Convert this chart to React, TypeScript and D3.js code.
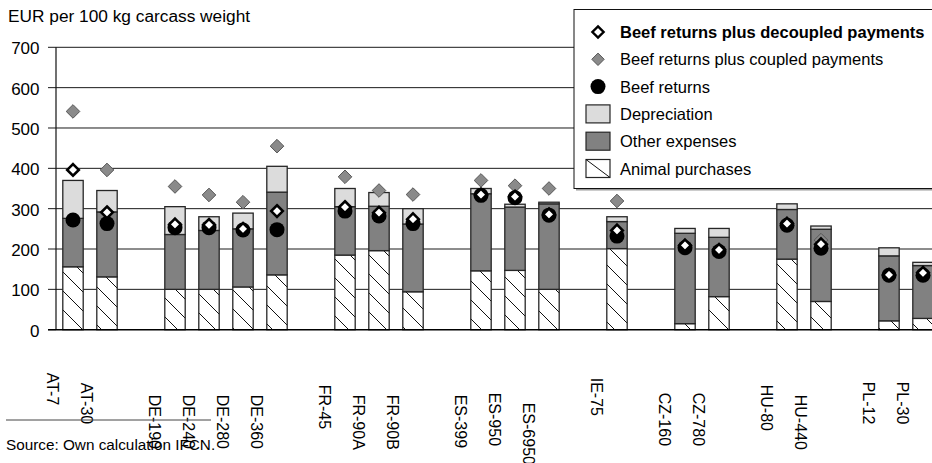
import React from "react";
import * as d3 from "d3";

// Category slots along the x axis; null marks an empty spacer slot between countries
const farms: (string | null)[] = [
  "AT-7", "AT-30", null,
  "DE-190", "DE-240", "DE-280", "DE-360", null,
  "FR-45", "FR-90A", "FR-90B", null,
  "ES-399", "ES-950", "ES-6950", null,
  "IE-75", null,
  "CZ-160", "CZ-780", null,
  "HU-80", "HU-440", null,
  "PL-12", "PL-30",
];

// Cost components (EUR per 100 kg carcass weight), one value per farm in order
const animalPurchases = [156, 131, 100, 100, 106, 136, 185, 196, 94, 146, 147, 100, 201, 15, 82, 175, 70, 22, 28];
const otherExpenses = [120, 161, 136, 146, 144, 205, 120, 110, 168, 191, 157, 212, 67, 224, 147, 123, 179, 161, 131];
const depreciation = [94, 53, 69, 34, 39, 64, 45, 34, 38, 13, 7, 4, 12, 12, 22, 14, 8, 20, 8];

// Returns
const beefReturns = [272, 263, 253, 253, 247, 248, 294, 282, 263, 333, 327, 284, 232, 203, 194, 259, 202, 135, 135];
const plusDecoupled = [396, 291, 261, 260, 250, 294, 304, 290, 274, 335, 330, 286, 246, 209, 198, 263, 212, 136, 141];
const plusCoupled = [541, 396, 355, 334, 316, 455, 379, 345, 335, 370, 357, 350, 319, 209, 198, 263, 222, 136, 141];

const yTicks = [0, 100, 200, 300, 400, 500, 600, 700];

const legendItems = [
  { label: "Beef returns plus decoupled payments", kind: "openDiamond", bold: true },
  { label: "Beef returns plus coupled payments", kind: "grayDiamond", bold: false },
  { label: "Beef returns", kind: "circle", bold: false },
  { label: "Depreciation", kind: "depreciation", bold: false },
  { label: "Other expenses", kind: "other", bold: false },
  { label: "Animal purchases", kind: "animal", bold: false },
];

// Layout
const W = 932;
const H = 463;
const plotLeft = 56;
const plotRight = 940;
const plotTop = 47.3;
const plotBottom = 329.7;
// vertical drop of each rotated category label below the axis
const labelDrop = [43, 53, 65, 65, 65, 65, 55, 65, 65, 65, 63, 73, 48, 63, 63, 55, 65, 52, 52];

const FONT = "'Liberation Sans', Arial, Helvetica, sans-serif";
const DEP_FILL = "#dcdcdc";
const OTHER_FILL = "#818181";
const EDGE = "#262626";

const diamond = (h: number) => `M0,${-h}L${h},0L0,${h}L${-h},0Z`;

export default function App() {
  const x = d3
    .scaleBand<number>()
    .domain(d3.range(farms.length))
    .range([plotLeft, plotRight])
    .paddingInner(0.4)
    .paddingOuter(0.2);
  const y = d3.scaleLinear().domain([0, 700]).range([plotBottom, plotTop]);

  const slotIndex: number[] = [];
  farms.forEach((f, i) => {
    if (f !== null) slotIndex.push(i);
  });
  const names = farms.filter((f) => f !== null) as string[];

  const rows = names.map((name, i) => ({
    name,
    animal: animalPurchases[i],
    other: otherExpenses[i],
    dep: depreciation[i],
  }));
  const stack = d3.stack<any>().keys(["animal", "other", "dep"])(rows);
  const fills: Record<string, string> = {
    animal: "url(#hatch)",
    other: OTHER_FILL,
    dep: DEP_FILL,
  };

  const bw = x.bandwidth();
  const cx = (i: number) => (x(slotIndex[i]) as number) + bw / 2;

  const legendX = 574;
  const legendY = 9.5;
  const legendRow = (k: number) => 32 + k * 27.3;
  const symX = 598;

  return (
    <svg
      width={W}
      height={H}
      style={{ position: "absolute", left: 0, top: 0, background: "#fff" }}
      fontFamily={FONT}
    >
      <defs>
        <pattern id="hatch" patternUnits="userSpaceOnUse" width={19} height={19}>
          <rect width={19} height={19} fill="#fff" />
          <path d="M0,0L19,19M-2,17L2,21M17,-2L21,2" stroke="#111" strokeWidth={1} />
        </pattern>
      </defs>

      {/* title */}
      <text x={8} y={22} fontSize={17.3} fill="#000">
        EUR per 100 kg carcass weight
      </text>

      {/* gridlines and y ticks */}
      {yTicks.map((t) => (
        <g key={t}>
          {t > 0 && (
            <line x1={plotLeft} x2={W} y1={y(t)} y2={y(t)} stroke="#1a1a1a" strokeWidth={1} />
          )}
          <line x1={48} x2={plotLeft} y1={y(t)} y2={y(t)} stroke="#1a1a1a" strokeWidth={1} />
          <text x={39.5} y={y(t) + 7} fontSize={17} textAnchor="end" fill="#000">
            {t}
          </text>
        </g>
      ))}
      <line x1={plotLeft} x2={plotLeft} y1={plotTop} y2={plotBottom} stroke="#111" strokeWidth={1.2} />

      {/* stacked cost bars */}
      <g>
        {stack.map((layer) =>
          layer.map((seg, i) => (
            <rect
              key={layer.key + i}
              x={cx(i) - bw / 2}
              y={y(seg[1])}
              width={bw}
              height={Math.max(0, y(seg[0]) - y(seg[1]))}
              fill={fills[layer.key]}
              stroke={EDGE}
              strokeWidth={1.3}
            />
          ))
        )}
      </g>

      {/* x axis */}
      <line x1={48} x2={W} y1={plotBottom} y2={plotBottom} stroke="#000" strokeWidth={1.5} />

      {/* return markers */}
      {plusCoupled.map((v, i) => (
        <path
          key={"c" + i}
          d={diamond(6.8)}
          transform={`translate(${cx(i)},${y(v)})`}
          fill="#8a8a8a"
          stroke="#555"
          strokeWidth={1}
        />
      ))}
      {beefReturns.map((v, i) => (
        <circle key={"r" + i} cx={cx(i)} cy={y(v)} r={7.5} fill="#000" />
      ))}
      {plusDecoupled.map((v, i) => (
        <path
          key={"d" + i}
          d={diamond(5.8)}
          transform={`translate(${cx(i)},${y(v)})`}
          fill="#fff"
          stroke="#000"
          strokeWidth={2.6}
          strokeLinejoin="miter"
        />
      ))}

      {/* legend */}
      <rect x={legendX + 2} y={legendY + 2} width={400} height={179} fill="#9a9a9a" />
      <rect x={legendX} y={legendY} width={400} height={179} fill="#fff" stroke="#111" strokeWidth={1} />
      {legendItems.map((item, k) => {
        const cy = legendRow(k);
        let sym: React.ReactNode = null;
        if (item.kind === "openDiamond") {
          sym = (
            <path d={diamond(5.6)} transform={`translate(${symX},${cy})`} fill="#fff" stroke="#000" strokeWidth={2.4} />
          );
        } else if (item.kind === "grayDiamond") {
          sym = (
            <path d={diamond(6.2)} transform={`translate(${symX},${cy})`} fill="#8a8a8a" stroke="#555" strokeWidth={1} />
          );
        } else if (item.kind === "circle") {
          sym = <circle cx={symX} cy={cy} r={7.5} fill="#000" />;
        } else {
          const fill = item.kind === "depreciation" ? DEP_FILL : item.kind === "other" ? OTHER_FILL : "#fff";
          sym = (
            <g>
              <rect x={586} y={cy - 9} width={24} height={18} fill={fill} stroke={EDGE} strokeWidth={1.2} />
              {item.kind === "animal" && (
                <line x1={586} y1={cy - 9} x2={610} y2={cy + 9} stroke="#111" strokeWidth={1} />
              )}
            </g>
          );
        }
        return (
          <g key={item.label}>
            {sym}
            <text x={620} y={cy + 6} fontSize={16.5} fontWeight={item.bold ? "bold" : "normal"} fill="#000">
              {item.label}
            </text>
          </g>
        );
      })}

      {/* category labels */}
      {names.map((name, i) => (
        <text
          key={"l" + name}
          transform={`translate(${cx(i) - 25.7},${plotBottom + labelDrop[i]}) rotate(90)`}
          fontSize={16}
          fill="#000"
        >
          {name}
        </text>
      ))}

      {/* source note */}
      <line x1={6} x2={211} y1={420} y2={420} stroke="#444" strokeWidth={1} />
      <text x={6} y={450} fontSize={15.3} fill="#000">
        Source: Own calculation IFCN.
      </text>
    </svg>
  );
}
